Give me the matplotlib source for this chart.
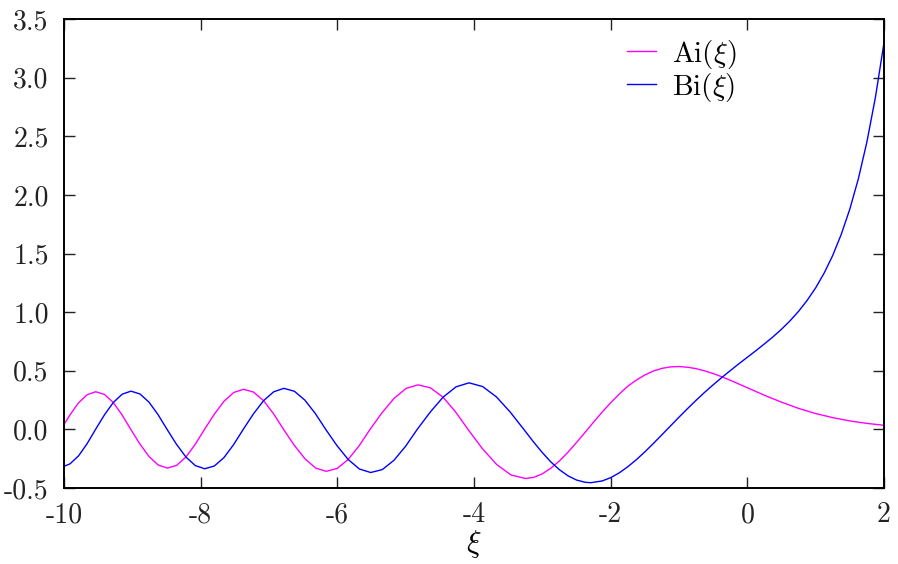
import matplotlib
matplotlib.use("Agg")
import matplotlib.pyplot as plt

plt.rcParams['font.family'] = ['cmr10', 'DejaVu Serif']
plt.rcParams['mathtext.fontset'] = 'cm'
plt.rcParams['axes.unicode_minus'] = False

# Ai(xi)
ai_x = [-10.0, -9.914, -9.788, -9.661, -9.535, -9.407, -9.279, -9.151, -9.023,
        -8.889, -8.755, -8.622, -8.488, -8.352, -8.216, -8.080, -7.944,
        -7.801, -7.658, -7.515, -7.372, -7.226, -7.080, -6.933, -6.787,
        -6.631, -6.475, -6.319, -6.163, -6.002, -5.842, -5.681, -5.521,
        -5.346, -5.170, -4.995, -4.820, -4.637, -4.454, -4.271, -4.088,
        -3.878, -3.668, -3.458, -3.248, -3.125, -3.0, -2.875, -2.75, -2.625,
        -2.5, -2.375, -2.25, -2.125, -2.0, -1.875, -1.75, -1.625, -1.5, -1.375,
        -1.25, -1.125, -1.0, -0.875, -0.75, -0.625, -0.5, -0.375, -0.25, -0.125,
        0.0, 0.25, 0.5, 0.75, 1.0, 1.25, 1.5, 1.75, 2.0]
ai_y = [0.042, 0.122, 0.226, 0.296, 0.321, 0.298, 0.229, 0.124, 0.0,
        -0.125, -0.232, -0.304, -0.330, -0.307, -0.236, -0.128, 0.0,
        0.129, 0.240, 0.315, 0.342, 0.318, 0.245, 0.133, 0.0,
        -0.135, -0.250, -0.329, -0.358, -0.333, -0.257, -0.140, 0.0,
        0.142, 0.264, 0.349, 0.380, 0.354, 0.275, 0.150, 0.0,
        -0.164, -0.300, -0.389, -0.419, -0.409, -0.379, -0.331, -0.269, -0.195,
        -0.112, -0.026, 0.062, 0.147, 0.227, 0.301, 0.368, 0.420, 0.464, 0.498,
        0.520, 0.533, 0.536, 0.530, 0.518, 0.499, 0.476, 0.449, 0.419, 0.387,
        0.355, 0.291, 0.232, 0.179, 0.135, 0.100, 0.072, 0.051, 0.035]

# Bi(xi)
bi_x = [-10.0, -9.912, -9.787, -9.663, -9.538, -9.409, -9.279, -9.149, -9.020,
        -8.888, -8.756, -8.624, -8.492, -8.354, -8.216, -8.078, -7.940,
        -7.799, -7.658, -7.518, -7.377, -7.228, -7.079, -6.930, -6.781,
        -6.628, -6.476, -6.323, -6.170, -6.006, -5.841, -5.677, -5.512,
        -5.342, -5.172, -5.001, -4.831, -4.641, -4.452, -4.262, -4.073,
        -3.873, -3.672, -3.472, -3.271, -3.125, -3.0, -2.875, -2.75, -2.625,
        -2.5, -2.375, -2.294, -2.125, -2.0, -1.875, -1.75, -1.625, -1.5, -1.375,
        -1.25, -1.125, -1.0, -0.875, -0.75, -0.625, -0.5, -0.375, -0.25, -0.125,
        0.0, 0.125, 0.25, 0.375, 0.5, 0.625, 0.75, 0.875, 1.0, 1.125, 1.25,
        1.375, 1.5, 1.625, 1.75, 1.875, 2.0]
bi_y = [-0.315, -0.294, -0.226, -0.123, 0.0, 0.123, 0.229, 0.300, 0.326,
        0.302, 0.232, 0.126, 0.0, -0.127, -0.236, -0.309, -0.336,
        -0.312, -0.240, -0.130, 0.0, 0.132, 0.245, 0.321, 0.350,
        0.325, 0.250, 0.136, 0.0, -0.138, -0.257, -0.338, -0.368,
        -0.343, -0.264, -0.144, 0.0, 0.147, 0.275, 0.363, 0.397,
        0.365, 0.277, 0.149, 0.0, -0.110, -0.198, -0.278, -0.344, -0.396,
        -0.432, -0.451, -0.455, -0.440, -0.412, -0.371, -0.319, -0.259, -0.192, -0.120,
        -0.046, 0.029, 0.104, 0.177, 0.248, 0.316, 0.380, 0.442, 0.501, 0.559,
        0.615, 0.671, 0.729, 0.789, 0.854, 0.926, 1.007, 1.100, 1.207, 1.334, 1.484,
        1.664, 1.879, 2.138, 2.452, 2.834, 3.298]

series_labels = [r'$\mathrm{Ai}(\xi)$', r'$\mathrm{Bi}(\xi)$']
x_ticks = [-10, -8, -6, -4, -2, 0, 2]
x_tick_labels = ['-10', '-8', '-6', '-4', '-2', '0', '2']
y_ticks = [-0.5, 0.0, 0.5, 1.0, 1.5, 2.0, 2.5, 3.0, 3.5]
y_tick_labels = ['-0.5', '0.0', '0.5', '1.0', '1.5', '2.0', '2.5', '3.0', '3.5']

fig = plt.figure(figsize=(8.98, 5.64), dpi=100)
ax = fig.add_axes([64 / 898, 1 - 488 / 564, (884 - 64) / 898, (488 - 19) / 564])

ax.plot(ai_x, ai_y, color='#ff00ff', lw=1.0, label=series_labels[0])
ax.plot(bi_x, bi_y, color='#0000ff', lw=1.0, label=series_labels[1])

ax.set_xlim(-10, 2)
ax.set_ylim(-0.5, 3.5)
ax.set_xticks(x_ticks)
ax.set_xticklabels(x_tick_labels)
ax.set_yticks(y_ticks)
ax.set_yticklabels(y_tick_labels)
ax.tick_params(direction='in', length=8, width=1.0, top=True, right=True,
               labelsize=20, colors='#222222')
ax.tick_params(axis='y', pad=11)
ax.tick_params(axis='x', pad=10)
for s in ax.spines.values():
    s.set_linewidth(1.4)
    s.set_color('black')

ax.set_xlabel(r'$\xi$', fontsize=22, labelpad=0)

leg = ax.legend(loc='upper left', bbox_to_anchor=(0.672, 0.985), frameon=False,
                fontsize=21, handlelength=1.0, handletextpad=0.55,
                labelspacing=0.0, borderaxespad=0)

fig.savefig('out.png', dpi=100)
